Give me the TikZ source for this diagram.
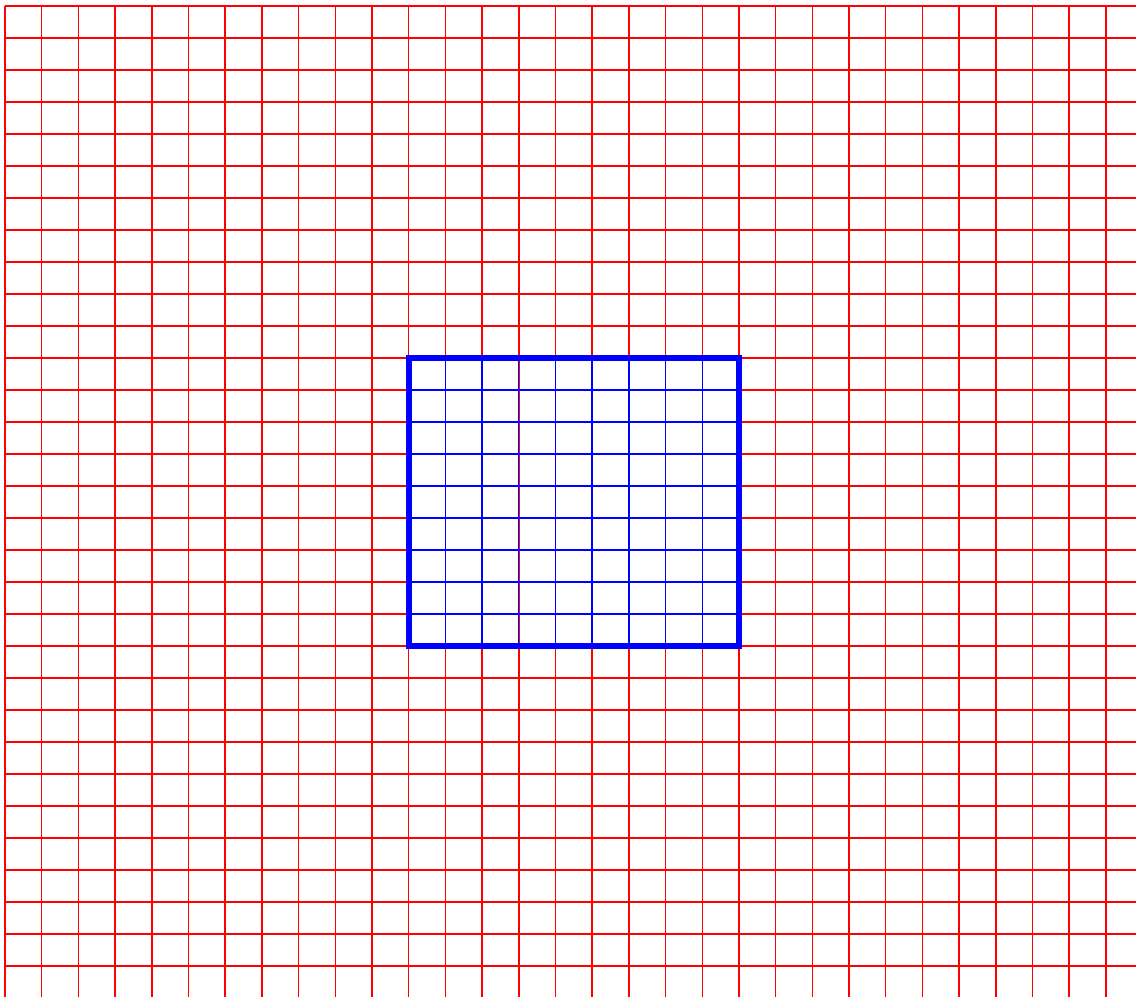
\documentclass[tikz,border=0pt]{standalone}
\usepackage{tikz}

\begin{document}
\begin{tikzpicture}[x=0.734cm, y=0.64cm,
    redline/.style={red, line width=0.85pt},
    blueline/.style={blue, line width=0.8pt},
    blueframe/.style={blue, line width=3.4pt}]
    \useasboundingbox (-0.136, 0.1875) rectangle (30.82, -30.97);
    \clip (-0.136, 0.1875) rectangle (30.82, -30.97);

    % Red grid
    \foreach \i in {0,...,31} {
        \draw[redline] (\i, 0) -- (\i, -31.5);
        \draw[redline] (0, -\i) -- (31.5, -\i);
    }

    % Blue grid
    \foreach \i in {12,...,19} {
        \draw[blueline] (\i, -11) -- (\i, -20);
        \draw[blueline] (11, -\i) -- (20, -\i);
    }
    \draw[blueframe] (11, -11) rectangle (20, -20);
\end{tikzpicture}
\end{document}
